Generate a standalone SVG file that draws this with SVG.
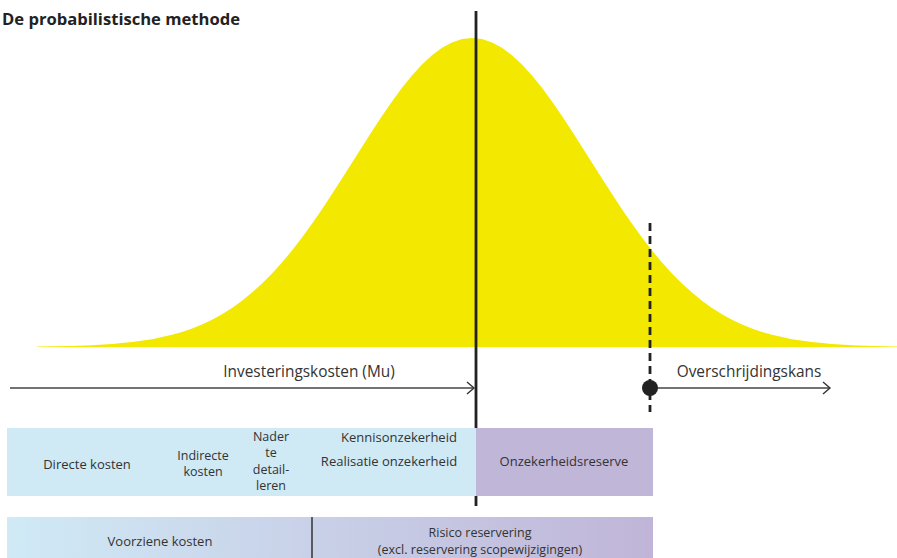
<svg xmlns="http://www.w3.org/2000/svg" width="897" height="558" viewBox="0 0 897 558">
<defs>
<style>
.t{font-family:"Open Sans","Liberation Sans",sans-serif;font-size:13px;fill:#333;}
.s{font-size:12.5px;}
.c{text-anchor:middle;}
.ax{font-family:"Open Sans","Liberation Sans",sans-serif;font-size:15.4px;fill:#333;}
.ln{stroke:#444;stroke-width:1.5;fill:none;}
</style>
<marker id="chev" markerWidth="10" markerHeight="14" refX="8" refY="7" orient="auto" markerUnits="userSpaceOnUse">
<path d="M1,1 L8,7 L1,13" fill="none" stroke="#333" stroke-width="1.4"/>
</marker>
<linearGradient id="g2" x1="0" y1="0" x2="1" y2="0">
<stop offset="0" stop-color="#d0eaf6"/>
<stop offset="1" stop-color="#c0b5d8"/>
</linearGradient>
</defs>
<rect width="897" height="558" fill="#fff"/>
<text x="2" y="25" font-family="'Open Sans','Liberation Sans',sans-serif" font-size="16.6" font-weight="bold" fill="#222">De probabilistische methode</text>
<g id="curve">
<path fill="#f3e800" d="M37,347 L37,346.6 L72,346 L92,345.3 L112,344.1 L132,342.1 L152,339.2 L172,334.8 L182,331.9 L192,328.5 L202,324.4 L212,319.7 L222,314.3 L232,307.9 L242,300.8 L252,292.6 L262,283.6 L272,273.5 L282,262.5 L292,250.5 L302,237.6 L312,223.8 L322,209.2 L332,194.1 L342,178.6 L352,162.7 L362,146.9 L372,131.2 L382,116 L392,101.4 L402,87.8 L412,75.5 L422,64.5 L432,55.2 L442,47.8 L452,42.4 L462,39.1 L472,38 L482,39.1 L492,42.4 L502,47.8 L512,55.2 L522,64.5 L532,75.5 L542,87.8 L552,101.4 L562,116 L572,131.2 L582,146.9 L592,162.7 L602,178.6 L612,194.1 L622,209.2 L632,223.8 L642,237.6 L652,250.5 L662,262.5 L672,273.5 L682,283.6 L692,292.6 L702,300.8 L712,307.9 L722,314.3 L732,319.7 L742,324.4 L752,328.5 L762,331.9 L772,334.8 L792,339.2 L812,342.1 L832,344.1 L852,345.3 L872,346 L897,346.6 L897,347 Z"/>
</g>
<g id="connectors">
<line x1="476" y1="11" x2="476" y2="506" stroke="#222" stroke-width="2.8"/>
<line x1="650" y1="223" x2="650" y2="412" stroke="#222" stroke-width="2.8" stroke-dasharray="8,5"/>
<line class="ln" x1="10" y1="388" x2="474" y2="388" marker-end="url(#chev)"/>
<line class="ln" x1="650" y1="388" x2="830" y2="388" marker-end="url(#chev)"/>
<circle cx="650" cy="388" r="8" fill="#222"/>
</g>
<text class="ax c" x="309" y="377">Investeringskosten (Mu)</text>
<text class="ax c" x="749" y="377">Overschrijdingskans</text>
<g id="row1">
<rect x="7" y="428" width="469" height="68" fill="#cfe9f5"/>
<rect x="476" y="428" width="177" height="68" fill="#c0b6d8"/>
<text class="t c" x="87" y="469">Directe kosten</text>
<text class="t s c" x="203" y="460">Indirecte</text>
<text class="t s c" x="203" y="476">kosten</text>
<text class="t s c" x="271" y="441">Nader</text>
<text class="t s c" x="271" y="457">te</text>
<text class="t s c" x="271" y="474">detail-</text>
<text class="t s c" x="271" y="490">leren</text>
<text class="t c" x="399" y="442">Kennisonzekerheid</text>
<text class="t c" x="389" y="466">Realisatie onzekerheid</text>
<text class="t c" x="564" y="466">Onzekerheidsreserve</text>
</g>
<g id="row2">
<rect x="7" y="517" width="646" height="41" fill="url(#g2)"/>
<line x1="312" y1="517" x2="312" y2="558" stroke="#333" stroke-width="1.5"/>
<text class="t c" x="160" y="546">Voorziene kosten</text>
<text class="t s c" x="480" y="537">Risico reservering</text>
<text class="t s c" x="480" y="554">(excl. reservering scopewijzigingen)</text>
</g>
</svg>
